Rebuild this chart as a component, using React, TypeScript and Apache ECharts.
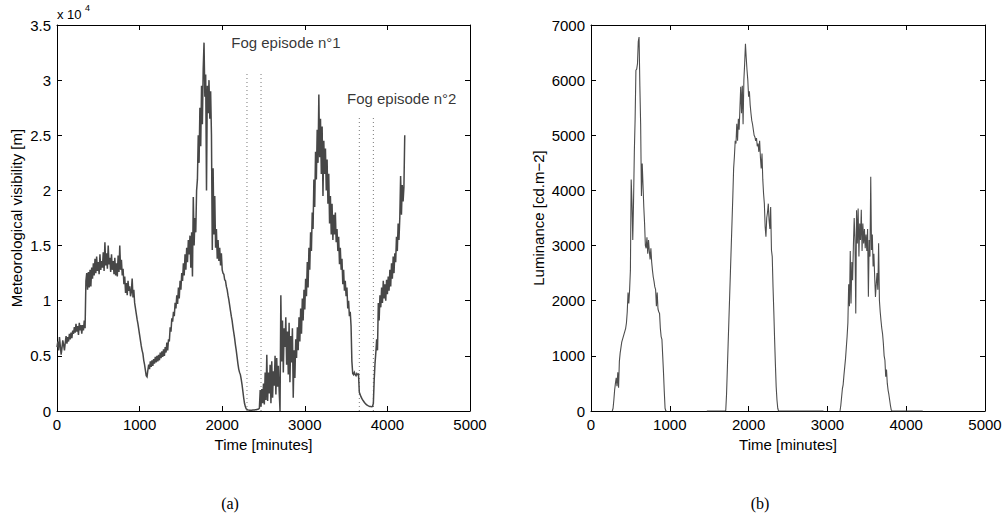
import React, { useEffect, useRef } from 'react';
import * as echarts from 'echarts';

// sampling step of both records, in minutes
const STEP_MIN = 10;
const N = null;

// Meteorological visibility [m], one value every 10 minutes from t = 0
const visibility = [
  5800, 6300, 5500, 6700, 5900, 5100, 5700, 6400, 6000, 5500,
  6200, 6800, 6100, 6700, 6300, 7000, 6500, 7100, 6600, 7300,
  7000, 7600, 7100, 7900, 7200, 7700, 6900, 8000, 7300, 7800,
  7000, 7800, 7300, 8200, 7500, 11800, 12500, 11000, 12600, 11200,
  12800, 11300, 13000, 12000, 13400, 12300, 13800, 12500, 14000, 12700,
  13500, 12400, 14200, 12800, 13600, 13000, 14400, 12700, 15300, 13200,
  14300, 12900, 15000, 13300, 13900, 12600, 14200, 12800, 13600, 12400,
  13900, 12300, 13400, 12200, 14100, 12600, 15000, 12800, 13700, 12300,
  12900, 11500, 12200, 10700, 11600, 10500, 11800, 10900, 11300, 10400,
  10800, 12000, 10300, 11000, 9800, 9300, 8800, 8300, 7900, 7400,
  6900, 6400, 5900, 5500, 5200, 4600, 4200, 3700, 3200, 3100,
  3700, 4200, 3800, 4500, 4000, 4600, 4100, 4700, 4300, 4900,
  4400, 5000, 4500, 5100, 4600, 5300, 4800, 5400, 4900, 5600,
  5000, 5800, 5300, 6200, 5500, 6500, 6300, 7600, 7200, 8400,
  8100, 9000, 8600, 9800, 9300, 10500, 9700, 11200, 10200, 11800,
  11000, 12500, 11800, 13400, 12300, 14200, 12800, 14800, 13500, 15500,
  14200, 15900, 13000, 16200, 12200, 19400, 15000, 17500, 16200, 20000,
  21000, 25000, 22500, 27500, 24000, 29500, 26000, 31000, 33400, 28500,
  30500, 20000, 29500, 27000, 30000, 26500, 29000, 25000, 14600, 22000,
  16000, 19500, 14800, 16500, 13800, 15500, 13600, 14800, 13200, 14300,
  12800, 12500, 12400, 11900, 11800, 11300, 11000, 10500, 10100, 9600,
  9100, 8600, 8200, 7600, 7100, 6600, 6000, 5500, 4900, 4300,
  3800, 3500, 3300, 2900, 2400, 1800, 1200, 700, 400, 200,
  150, 100, 80, 70, 60, 60, 70, 80, 90, 100,
  110, 120, 140, 160, 180, 250, 1900, 400, 2000, 700,
  2500, 600, 3500, 1000, 5100, 900, 3500, 1600, 4200, 700,
  4500, 1200, 3600, 2300, 5000, 1500, 4800, 2200, 4100, 1800,
  0, 10500, 4500, 8200, 3500, 7500, 5800, 8500, 4200, 7200,
  3300, 8000, 2600, 6800, 4400, 7500, 1200, 5500, 3000, 6500,
  4800, 7600, 5500, 8500, 6300, 9300, 7000, 10200, 8200, 11000,
  9200, 12000, 10400, 13500, 11200, 14800, 12800, 16200, 14500, 18000,
  16500, 21000, 18500, 23500, 21000, 25500, 22500, 28700, 23000, 26500,
  21500, 25800, 19500, 24500, 21500, 23800, 20000, 22800, 18800, 21500,
  17000, 19500, 16000, 18800, 15500, 17800, 16000, 18000, 15300, 16500,
  14500, 15800, 13300, 14800, 12800, 13800, 11500, 12800, 10900, 11800,
  10400, 11200, 9300, 10000, 8600, 9000, 7700, 4500, 3400, 3300,
  3500, 3300, 3200, 3400, 3300, 3350, 1700, 1500, 1300, 1150,
  1000, 900, 800, 700, 620, 560, 500, 460, 430, 410,
  400, 390, 420, 700, 2800, 4300, 5300, 6500, 5500, 9800,
  8200, 10500, 9400, 11200, 9800, 11800, 10200, 11500, 10000, 11900,
  10600, 12200, 10900, 12800, 11300, 13400, 12000, 14000, 12500, 14300,
  13500, 15800, 14500, 17000, 15500, 17500, 21300, 17800, 20500, 19000,
  20300, 25000,
];

// Luminance [cd.m-2], one value every 10 minutes from t = 0 (null = no record)
const luminance = [
  N, N, N, N, N, N, N, N, N, N,
  N, N, N, N, N, N, N, N, N, N,
  N, N, N, N, N, N, N, 0, 50, 200,
  380, 500, 600, 450, 700, 420, 900, 1050, 1150, 1250,
  1300, 1350, 1400, 1450, 1500, 1600, 1800, 2150, 1950, 2200,
  2550, 4200, 3800, 3100, 3800, 4700, 5300, 6180, 6200, 6300,
  6700, 6780, 5900, 5200, 3900, 4490, 4100, 3700, 3400, 3000,
  2950, 3150, 2850, 3100, 2900, 2750, 2950, 2700, 2550, 2430,
  2350, 2250, 2200, 1900, 2150, 1850, 1800, 1770, 1500, 1350,
  1300, 1000, 700, 350, 50, 0, 0, N, N, N,
  N, N, N, N, N, N, N, N, N, N,
  N, N, N, N, N, N, N, N, N, N,
  N, N, N, N, N, N, N, N, N, N,
  N, N, N, N, N, N, N, N, N, N,
  N, N, N, N, N, N, N, 0, 0, 0,
  0, 0, 0, 0, 0, 0, 0, 0, 0, 0,
  0, 0, 0, 0, 0, 0, 0, 0, 0, 0,
  0, 10, 300, 750, 1200, 1650, 2100, 2550, 3000, 3450,
  3900, 4400, 4620, 4900, 4850, 5210, 4900, 5300, 5100, 5500,
  5880, 5400, 5900, 5200, 6000, 6300, 6660, 6400, 6180, 6000,
  5700, 5800, 5550, 5400, 5270, 5200, 5100, 5000, 4970, 4900,
  4950, 4800, 4850, 4700, 4900, 4600, 4400, 4670, 4200, 3940,
  3760, 3340, 3160, 3500, 3600, 3760, 3460, 3300, 3700, 2920,
  2800, 2250, 1800, 1300, 850, 440, 200, 50, 0, 0,
  0, 0, 0, 0, 0, 0, 0, 0, 0, 0,
  0, 0, 0, 0, 0, 0, 0, 0, 0, 0,
  0, 0, 0, 0, 0, 0, 0, 0, 0, 0,
  0, 0, 0, 0, 0, 0, 0, 0, 0, 0,
  0, 0, 0, 0, 0, 0, 0, 0, 0, 0,
  0, 0, 0, 0, 0, 0, N, N, N, N,
  N, N, N, N, N, N, N, N, N, N,
  N, N, N, N, N, N, 0, 100, 250, 400,
  480, 650, 800, 950, 1150, 1350, 1600, 2300, 1900, 2900,
  1950, 2700, 2370, 3000, 3500, 3100, 1770, 3640, 3040, 3670,
  2800, 3400, 3100, 3650, 2900, 3400, 3040, 3300, 2950, 3200,
  2900, 3300, 2070, 3100, 2800, 4250, 2920, 3200, 2620, 2850,
  2430, 2070, 2310, 2500, 2200, 3040, 2010, 1800, 1640, 1500,
  1400, 1230, 1000, 920, 620, 750, 500, 380, 300, 200,
  100, 20, 0, 0, 0, 0, 0, 0, 0, 0,
  0, 0, 0, 0, 0, 0, 0, 0, 0, 0,
  0, 0, 0, 0, 0, 0, 0, 0, 0, 0,
  0, 0, 0, 0, 0, 0, 0, 0, 0, 0,
  0, 0,
];

// dotted limits of the fog episodes [minutes] and their top [m]
const fogLines = [
  { t: 2300, top: 30800 },
  { t: 2470, top: 30800 },
  { t: 3660, top: 26600 },
  { t: 3830, top: 26600 },
];
const fogLabels = [
  { name: 'Fog episode n°1', t: 2772, v: 33400 },
  { name: 'Fog episode n°2', t: 4173, v: 28330 },
];

const X_MAX = 5000;
const X_INTERVAL = 1000;
const VIS_MAX = 35000;
const VIS_INTERVAL = 5000;
const LUM_MAX = 7000;
const LUM_INTERVAL = 1000;

const SANS = 'Liberation Sans, Arial, sans-serif';
const SERIF = 'Liberation Serif, Times New Roman, serif';

function toPairs(values: (number | null)[]) {
  return values.map((v, i) => [i * STEP_MIN, v === null ? '-' : v]);
}

function axisBase(showLabel: boolean) {
  return {
    axisLine: { show: true, onZero: false, lineStyle: { color: '#000', width: 1 } },
    axisTick: { show: true, inside: true, length: 5, lineStyle: { color: '#000', width: 1 } },
    axisLabel: {
      show: showLabel, color: '#000', fontSize: 15, fontFamily: SANS, margin: 6,
      formatter: (v: number) => String(v),
    },
    splitLine: { show: false },
  };
}

export default function App() {
  const ref = useRef<HTMLDivElement>(null);

  useEffect(() => {
    if (!ref.current) return;
    const chart = echarts.init(ref.current, null, { renderer: 'svg' });

    const xAxes: any[] = [];
    const yAxes: any[] = [];
    [0, 1].forEach((g) => {
      xAxes.push({
        type: 'value', gridIndex: g, position: 'bottom', min: 0, max: X_MAX, interval: X_INTERVAL,
        ...axisBase(true),
        name: 'Time [minutes]', nameLocation: 'middle', nameGap: 24,
        nameTextStyle: { color: '#000', fontSize: 15, fontFamily: SANS },
      });
      xAxes.push({
        type: 'value', gridIndex: g, position: 'top', min: 0, max: X_MAX, interval: X_INTERVAL,
        ...axisBase(false),
      });
    });
    yAxes.push({
      type: 'value', gridIndex: 0, position: 'left', min: 0, max: VIS_MAX, interval: VIS_INTERVAL,
      ...axisBase(true),
      axisLabel: { ...axisBase(true).axisLabel, formatter: (v: number) => String(v / 10000) },
      name: 'Meteorological visibility [m]', nameLocation: 'middle', nameGap: 33, nameRotate: 90,
      nameTextStyle: { color: '#000', fontSize: 15, fontFamily: SANS },
    });
    yAxes.push({
      type: 'value', gridIndex: 0, position: 'right', min: 0, max: VIS_MAX, interval: VIS_INTERVAL,
      ...axisBase(false),
    });
    yAxes.push({
      type: 'value', gridIndex: 1, position: 'left', min: 0, max: LUM_MAX, interval: LUM_INTERVAL,
      ...axisBase(true),
      name: 'Luminance [cd.m\u22122]', nameLocation: 'middle', nameGap: 45, nameRotate: 90,
      nameTextStyle: { color: '#000', fontSize: 15, fontFamily: SANS },
    });
    yAxes.push({
      type: 'value', gridIndex: 1, position: 'right', min: 0, max: LUM_MAX, interval: LUM_INTERVAL,
      ...axisBase(false),
    });

    const series: any[] = [
      {
        type: 'line', xAxisIndex: 0, yAxisIndex: 0, data: toPairs(visibility),
        symbol: 'none', showSymbol: false, silent: true, z: 3,
        lineStyle: { color: '#474747', width: 1.5, join: 'miter', miterLimit: 3 },
      },
      ...fogLines.map((f) => ({
        type: 'line', xAxisIndex: 0, yAxisIndex: 0, data: [[f.t, 0], [f.t, f.top]],
        symbol: 'none', showSymbol: false, silent: true, z: 2,
        lineStyle: { color: '#777', width: 1, type: [1, 3] },
      })),
      {
        type: 'scatter', xAxisIndex: 0, yAxisIndex: 0, silent: true, z: 4,
        data: fogLabels.map((f) => ({ name: f.name, value: [f.t, f.v] })),
        symbolSize: 1, itemStyle: { color: 'rgba(0,0,0,0)' },
        label: { show: true, position: 'inside', formatter: '{b}', color: '#000', fontSize: 15, fontFamily: SANS },
      },
      {
        type: 'line', xAxisIndex: 2, yAxisIndex: 2, data: toPairs(luminance),
        symbol: 'none', showSymbol: false, silent: true, z: 3, connectNulls: false,
        lineStyle: { color: '#4d4d4d', width: 1.1 },
      },
    ];

    chart.setOption({
      animation: false,
      backgroundColor: '#fff',
      grid: [
        { left: 57, top: 25, width: 413, height: 386 },
        { left: 591, top: 25, width: 394, height: 386 },
      ],
      xAxis: xAxes,
      yAxis: yAxes,
      series,
      graphic: [
        { type: 'text', left: 57, top: 8, style: { text: 'x 10', fontSize: 13, fontFamily: SANS, fill: '#000' } },
        { type: 'text', left: 85, top: 3, style: { text: '4', fontSize: 9, fontFamily: SANS, fill: '#000' } },
        { type: 'text', x: 230, y: 503, style: { text: '(a)', fontSize: 16, fontFamily: SERIF, fill: '#000', align: 'center', verticalAlign: 'middle' } },
        { type: 'text', x: 760, y: 503, style: { text: '(b)', fontSize: 16, fontFamily: SERIF, fill: '#000', align: 'center', verticalAlign: 'middle' } },
      ],
    });

    return () => chart.dispose();
  }, []);

  return (
    <div
      ref={ref}
      style={{ position: 'fixed', left: 0, top: 0, width: 1006, height: 519, background: '#fff' }}
    />
  );
}
